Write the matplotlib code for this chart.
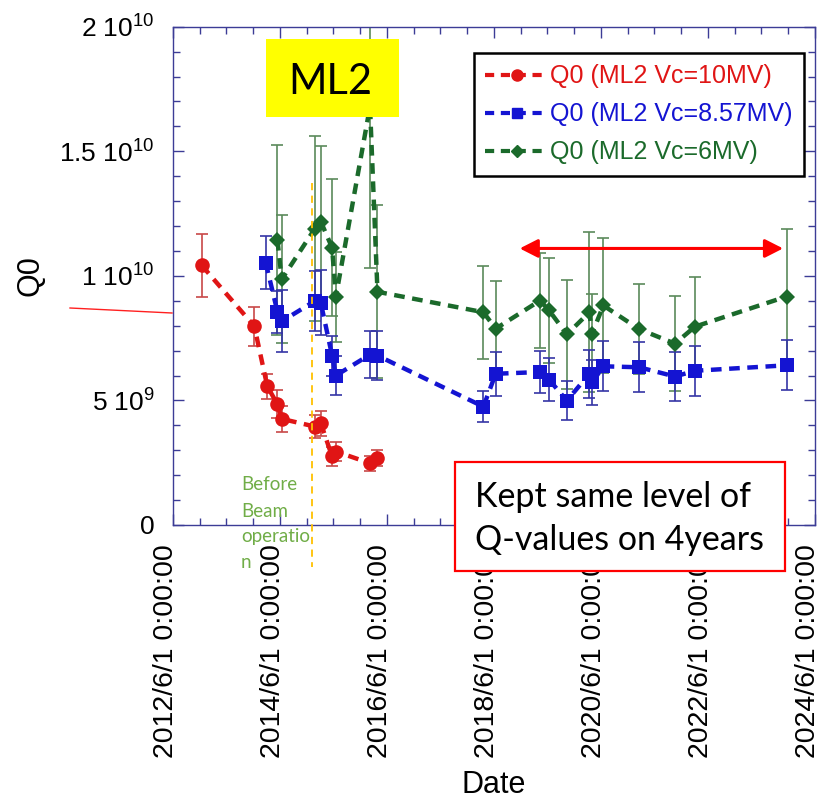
import matplotlib
matplotlib.use('Agg')
import matplotlib.pyplot as plt
import matplotlib.dates as mdates
from matplotlib.ticker import MultipleLocator, FuncFormatter, FixedLocator
from matplotlib.transforms import ScaledTranslation
from matplotlib.lines import Line2D
from matplotlib.patches import Rectangle
import numpy as np
import datetime as dt

plt.rcParams['font.family'] = ['Liberation Sans', 'DejaVu Sans']
plt.rcParams['mathtext.fontset'] = 'custom'
plt.rcParams['mathtext.rm'] = 'Liberation Sans'

# ---------------- data ----------------
red_dates = ['2012-12-14', '2013-12-08', '2014-03-07', '2014-05-15', '2014-06-13',
             '2015-01-26', '2015-03-07', '2015-05-23', '2015-06-18', '2016-02-06', '2016-03-28']
red_q = [10.42, 7.98, 5.56, 4.85, 4.26, 3.95, 4.09, 2.75, 2.95, 2.48, 2.68]
red_err = [1.25, 0.78, 0.52, 0.55, 0.52, 0.47, 0.50, 0.40, 0.40, 0.30, 0.33]

blue_dates = ['2014-02-24', '2014-05-15', '2014-06-15', '2015-01-28', '2015-03-07',
              '2015-05-23', '2015-06-18', '2016-02-06', '2016-03-28', '2018-03-21',
              '2018-06-13', '2019-04-12', '2019-06-13', '2019-10-12', '2020-03-14',
              '2020-04-01', '2020-06-17', '2021-02-17', '2021-10-19', '2022-03-04',
              '2023-11-20']
blue_q = [10.53, 8.56, 8.18, 9.00, 8.92, 6.80, 6.00, 6.84, 6.80, 4.75, 6.07,
          6.14, 5.83, 4.99, 6.07, 5.72, 6.37, 6.33, 5.96, 6.19, 6.41]
blue_err = [1.05, 0.85, 1.25, 1.20, 1.30, 0.80, 0.77, 0.93, 0.98, 0.62, 0.89,
            0.86, 0.87, 0.78, 0.97, 0.92, 1.00, 1.00, 1.00, 1.01, 1.01]

green_dates = ['2014-05-15', '2014-06-13', '2015-01-26', '2015-03-07', '2015-05-23',
               '2015-06-18', '2016-02-06', '2016-03-28', '2018-03-21', '2018-06-13',
               '2019-04-12', '2019-06-13', '2019-10-12', '2020-03-14', '2020-04-01',
               '2020-06-17', '2021-02-17', '2021-10-19', '2022-03-04', '2023-11-20']
green_q = [11.44, 9.86, 11.90, 12.18, 11.13, 9.16, 16.80, 9.36, 8.54, 7.88,
           9.01, 8.61, 7.65, 8.54, 7.68, 8.81, 7.86, 7.28, 7.96, 9.17]
green_err = [3.80, 2.57, 3.70, 3.04, 2.75, 1.80, 6.50, 3.47, 1.87, 1.90,
             1.90, 2.10, 2.20, 3.20, 1.60, 2.70, 1.80, 1.90, 2.00, 2.70]

series_labels = ['Q0 (ML2 Vc=10MV)', 'Q0 (ML2 Vc=8.57MV)', 'Q0 (ML2 Vc=6MV)']
ytick_vals = [0, 5e9, 1e10, 1.5e10, 2e10]
ytick_labels = ['0', r'5 $\mathregular{10^{9}}$', r'1 $\mathregular{10^{10}}$',
                r'1.5 $\mathregular{10^{10}}$', r'2 $\mathregular{10^{10}}$']
x_start, x_end = '2012-06-01', '2024-06-01'
arrow_dates = ['2018-11-24', '2023-10-27']
arrow_q = 11.1e9
beam_start = '2015-01-06'

def todt(lst):
    return [dt.datetime.strptime(s, '%Y-%m-%d') for s in lst]

W, H = 820, 805
fig = plt.figure(figsize=(W / 100, H / 100), dpi=100)
ax = fig.add_axes([173 / W, 1 - 525 / H, (815 - 173) / W, (525 - 26.7) / H])

def P(x, y):
    return (x / W, 1 - y / H)

c_red, c_blue, c_green = '#e01515', '#1414d2', '#1b6a2b'
e_red, e_blue, e_green = '#c84848', '#3535a5', '#5b8a5b'
dash = (2.4, 1.7)

specs = [
    (green_dates, green_q, green_err, c_green, e_green, 'D', 8.0),
    (blue_dates, blue_q, blue_err, c_blue, e_blue, 's', 9.5),
    (red_dates, red_q, red_err, c_red, e_red, 'o', 10.5),
]
for dates, q, err, c, ec, mk, ms in specs:
    d = todt(dates)
    qv = np.array(q) * 1e9
    ev = np.array(err) * 1e9
    ax.errorbar(d, qv, yerr=ev, fmt='none', ecolor=ec, elinewidth=1.2,
                capsize=4, capthick=1.2, zorder=2)
    ax.plot(d, qv, color=c, lw=3.2, linestyle=(0, dash), marker=mk,
            markersize=ms, markeredgewidth=0, zorder=3)

ax.set_xlim(todt([x_start])[0], todt([x_end])[0])
ax.set_ylim(0, 2e10)

ax.xaxis.set_major_locator(mdates.YearLocator(base=2, month=6, day=1))
ax.xaxis.set_minor_locator(mdates.MonthLocator(bymonth=[6, 12], bymonthday=1))
ax.xaxis.set_major_formatter(FuncFormatter(
    lambda v, p: (lambda d: f'{d.year}/{d.month}/{d.day} 0:00:00')(mdates.num2date(v))))
ax.yaxis.set_major_locator(FixedLocator(ytick_vals))
ax.set_yticklabels(ytick_labels)
ax.yaxis.set_minor_locator(MultipleLocator(1e9))

spc = '#3c3c96'
for s in ax.spines.values():
    s.set_color(spc)
    s.set_linewidth(1.0)
ax.tick_params(which='both', direction='in', top=True, right=True, color=spc)
ax.tick_params(which='major', length=8, width=1.0)
ax.tick_params(which='minor', length=5, width=1.0)
ax.tick_params(axis='x', which='major', labelsize=20.5, pad=14, labelrotation=90)
ax.tick_params(axis='y', which='major', labelsize=19, pad=13)

for lbl in ax.get_xticklabels():
    lbl.set_transform(lbl.get_transform() + ScaledTranslation(-7 / 100, 0, fig.dpi_scale_trans))

# orange dashed "beam operation" line
ax.plot([todt([beam_start])[0]] * 2, [0.686, -0.084], transform=ax.get_xaxis_transform(),
        color='#ffc000', lw=1.3, linestyle=(0, (4, 3)), clip_on=False, zorder=4)

# red double arrow
ad = todt(arrow_dates)
ax.annotate('', xy=(ad[1], arrow_q), xytext=(ad[0], arrow_q),
            arrowprops=dict(arrowstyle='<|-|>,head_length=0.55,head_width=0.28',
                            mutation_scale=20, color='#ff0000', lw=2.2,
                            shrinkA=0, shrinkB=0), zorder=5)

# legend
handles = [Line2D([], [], color=c_red, lw=3.0, linestyle=(0, (2.2, 1.6)), marker='o', markersize=8),
           Line2D([], [], color=c_blue, lw=3.0, linestyle=(0, (2.2, 1.6)), marker='s', markersize=7.5),
           Line2D([], [], color=c_green, lw=3.0, linestyle=(0, (2.2, 1.6)), marker='D', markersize=6.5)]
leg = ax.legend(handles, series_labels, loc='upper right', bbox_to_anchor=(0.983, 0.947),
                borderaxespad=0, fontsize=18, fancybox=False, framealpha=1,
                edgecolor='black', handlelength=2.5, handletextpad=0.1,
                labelspacing=0.56, borderpad=0.45, labelcolor='linecolor')
leg.get_frame().set_linewidth(1.8)
leg.set_zorder(10)

# outside red line
fig.add_artist(Line2D([70 / W, 172 / W], [1 - 308 / H, 1 - 313 / H], color='#ff2020', lw=1.0))

# ML2 box
x0, y0 = P(266, 117)
fig.add_artist(Rectangle((x0, y0), (399 - 266) / W, (117 - 39) / H,
                         transform=fig.transFigure, facecolor='#ffff00', edgecolor='none', zorder=20))
fig.text(*P(330, 94), 'ML2', fontsize=30, family=['Lato', 'DejaVu Sans'],
         ha='center', va='baseline', zorder=21)

# Kept box
x0, y0 = P(455, 571)
fig.add_artist(Rectangle((x0, y0), (785 - 455) / W, (571 - 462) / H,
                         transform=fig.transFigure, facecolor='white', edgecolor='#ff0000',
                         lw=1.6, zorder=20))
fig.text(*P(475, 507), 'Kept same level of', fontsize=24.5, family=['Lato', 'DejaVu Sans'],
         ha='left', va='baseline', zorder=21)
fig.text(*P(475, 550), 'Q-values on 4years', fontsize=24.5, family=['Lato', 'DejaVu Sans'],
         ha='left', va='baseline', zorder=21)

# Before beam operation
for txt, yb in zip(['Before', 'Beam', 'operatio', 'n'], [490, 517, 542, 568]):
    fig.text(*P(241, yb), txt, fontsize=13.5, family=['Lato', 'DejaVu Sans'],
             color='#70ad47', ha='left', va='baseline', zorder=21)

# axis labels
fig.text(*P(31, 276), 'Q0', fontsize=22, rotation=90, ha='center', va='center')
fig.text(*P(494, 785), 'Date', fontsize=22, ha='center', va='center')

fig.savefig('out.png', dpi=100)
